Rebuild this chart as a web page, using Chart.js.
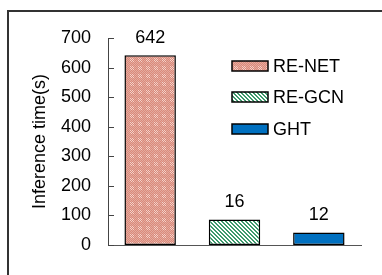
<!DOCTYPE html>
<html>
<head>
<meta charset="utf-8">
<script src="https://cdn.jsdelivr.net/npm/chart.js@4"></script>
<style>
  html, body { margin: 0; padding: 0; background: #fff; }
  .wrap { position: relative; width: 382px; height: 275px; overflow: hidden; }
  .frame { position: absolute; left: 7px; top: 10px; width: 400px; height: 300px;
           border-left: 2px solid #333; border-top: 2px solid #333; }
  canvas { position: absolute; left: 0; top: 0; }
</style>
</head>
<body>
<div class="wrap">
  <div class="frame"></div>
  <canvas id="chart" width="382" height="275"></canvas>
</div>
<script>
// data
const methods = ['RE-NET', 'RE-GCN', 'GHT'];
const barHeights = [642, 86, 42];          // drawn heights of the bars
const valueLabels = ['642', '16', '12'];   // numbers printed above the bars
const yTicks = [0, 100, 200, 300, 400, 500, 600, 700];

const FONT = '"Liberation Sans", Arial, sans-serif';

// fill patterns
function makePattern(size, draw) {
  const c = document.createElement('canvas');
  c.width = size; c.height = size;
  draw(c.getContext('2d'));
  return c.getContext('2d').createPattern(c, 'repeat');
}

const dotPattern = makePattern(8, g => {
  g.fillStyle = '#d98a7b';
  g.fillRect(0, 0, 8, 8);
  for (let y = 0; y < 8; y++) {
    for (let x = 0; x < 8; x++) {
      if ((x + y) % 2 === 0) {
        const inDot = x >= 2 && x <= 5 && y >= 2 && y <= 5;
        g.fillStyle = inDot ? '#f4d2ca' : '#e6aa9e';
        g.fillRect(x, y, 1, 1);
      }
    }
  }
});

const stripePattern = makePattern(4, g => {
  g.fillStyle = '#ffffff';
  g.fillRect(0, 0, 4, 4);
  g.fillStyle = '#3d9a6c';
  for (let y = 0; y < 4; y++) {
    g.fillRect((y) % 4, y, 1, 1);
    g.fillRect((y + 1) % 4, y, 1, 1);
  }
});

const fills = [dotPattern, stripePattern, '#0070c0'];

// ticks pointing into the plot
const innerTicks = {
  id: 'innerTicks',
  afterDraw(chart) {
    const { ctx, chartArea } = chart;
    const y = chart.scales.y;
    ctx.save();
    ctx.strokeStyle = '#444';
    ctx.lineWidth = 1;
    yTicks.forEach(v => {
      const py = Math.round(y.getPixelForValue(v)) + 0.5;
      ctx.beginPath();
      ctx.moveTo(chartArea.left, py);
      ctx.lineTo(chartArea.left + 6, py);
      ctx.stroke();
    });
    ctx.restore();
  }
};

// numbers above bars
const barLabels = {
  id: 'barLabels',
  afterDatasetsDraw(chart) {
    const { ctx } = chart;
    const meta = chart.getDatasetMeta(0);
    ctx.save();
    ctx.font = '18px ' + FONT;
    ctx.fillStyle = '#000';
    ctx.textAlign = 'center';
    ctx.textBaseline = 'middle';
    meta.data.forEach((bar, i) => {
      ctx.fillText(valueLabels[i], bar.x, bar.y - 17.5);
    });
    ctx.restore();
  }
};

// legend inside the plot area
const boxLegend = {
  id: 'boxLegend',
  afterDraw(chart) {
    const { ctx } = chart;
    const x0 = 232, rowY = [66, 97, 129];
    ctx.save();
    ctx.font = '18px ' + FONT;
    ctx.textBaseline = 'middle';
    methods.forEach((name, i) => {
      ctx.fillStyle = fills[i];
      ctx.fillRect(x0, rowY[i] - 5, 36, 10);
      ctx.strokeStyle = '#000';
      ctx.lineWidth = 1.5;
      ctx.strokeRect(x0, rowY[i] - 5, 36, 10);
      ctx.fillStyle = '#000';
      ctx.fillText(name, x0 + 41, rowY[i] + 1);
    });
    ctx.restore();
  }
};

new Chart(document.getElementById('chart'), {
  type: 'bar',
  data: {
    labels: methods,
    datasets: [{
      data: barHeights,
      backgroundColor: fills,
      borderColor: '#000',
      borderWidth: 1.5,
      borderSkipped: false,
      categoryPercentage: 1,
      barPercentage: 0.61
    }]
  },
  options: {
    responsive: false,
    animation: false,
    layout: { padding: { top: 38, right: 21, bottom: 30, left: 0 } },
    plugins: {
      legend: { display: false },
      tooltip: { enabled: false }
    },
    scales: {
      x: {
        ticks: { display: false },
        grid: { display: false },
        border: { display: true, color: '#555', width: 1 },
        afterFit(scale) { scale.height = 0; }
      },
      y: {
        min: 0,
        max: 700,
        afterBuildTicks(scale) { scale.ticks = yTicks.map(v => ({ value: v })); },
        ticks: { color: '#000', padding: 17, font: { size: 18, family: FONT } },
        grid: { display: false, drawTicks: false },
        border: { display: true, color: '#444', width: 1 },
        title: {
          display: true,
          text: 'Inference time(s)',
          color: '#000',
          font: { size: 18, family: FONT },
          padding: { top: 29, bottom: 0 }
        },
        afterFit(scale) { scale.width = 108; }
      }
    }
  },
  plugins: [innerTicks, barLabels, boxLegend]
});
</script>
</body>
</html>
